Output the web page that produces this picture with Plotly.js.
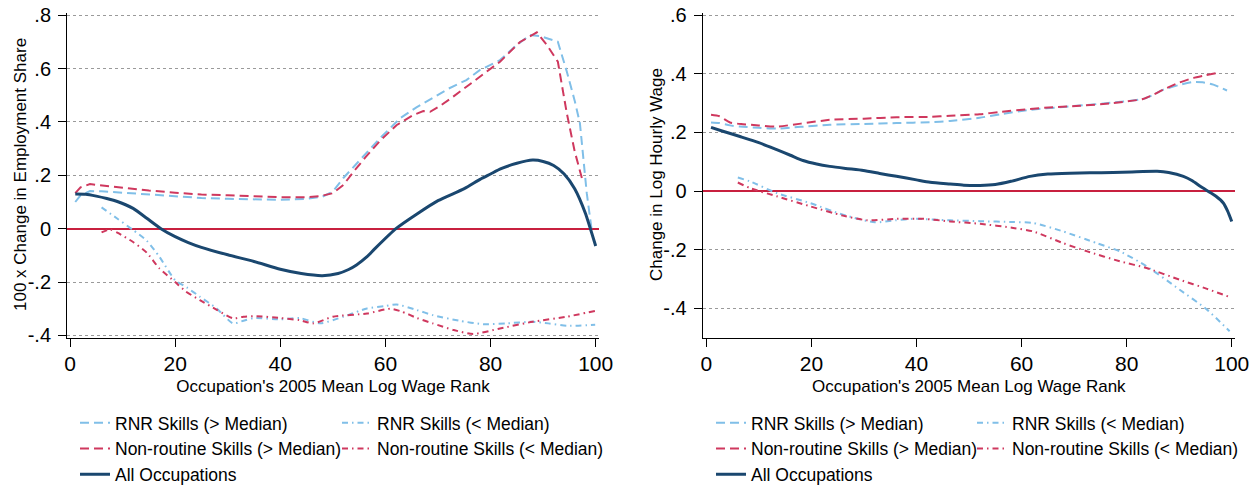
<!DOCTYPE html>
<html>
<head>
<meta charset="utf-8">
<script src="https://cdn.plot.ly/plotly-3.0.1.min.js"></script>
<style>html,body{margin:0;padding:0;background:#fff;}#chart{width:1255px;height:485px;}</style>
</head>
<body>
<div id="chart"></div>
<script>
// ---------- data: left panel (100 x change in employment share) ----------
const empAllX = [1,3,5,7,9,12,14.6,17.3,20,22.5,25,30,35,40,44,48,51,53,54.5,56.5,58,62,66,70,75,78,80,82,85,88,90,92,94,96,98,100];
const empAllY = [0.13,0.129,0.122,0.113,0.102,0.076,0.039,0,-0.03,-0.052,-0.07,-0.098,-0.123,-0.152,-0.168,-0.176,-0.168,-0.153,-0.136,-0.105,-0.075,0,0.055,0.105,0.15,0.185,0.205,0.225,0.245,0.257,0.252,0.237,0.205,0.15,0.06,-0.065];

const empRnrHiX = [1,2,3.8,6,10,15,20,25,30,35,40,45,48,50,52,54.2,56.4,59,62.8,65.9,69,72,75.4,78,81.8,85,87.5,89.4,91,92.8,94.5,96,97,98.3,99.2];
const empRnrHiY = [0.1,0.125,0.141,0.14,0.135,0.128,0.12,0.115,0.112,0.11,0.108,0.112,0.12,0.139,0.19,0.237,0.283,0.34,0.414,0.455,0.49,0.525,0.557,0.595,0.632,0.689,0.726,0.722,0.712,0.701,0.589,0.48,0.395,0.133,0.0];

const empNrHiX = [1,2,3.8,6,10,15,20,25,30,35,40,45,47.6,50,52,54,56.3,59,62.1,65.3,67.2,68.5,70.4,72.9,75.4,78,81.8,85.6,88.8,90.7,92.8,94.5,96,97.5];
const empNrHiY = [0.133,0.155,0.167,0.162,0.152,0.143,0.135,0.128,0.125,0.122,0.118,0.118,0.122,0.133,0.164,0.215,0.27,0.33,0.388,0.426,0.441,0.438,0.46,0.495,0.532,0.57,0.626,0.7,0.736,0.689,0.626,0.433,0.29,0.18];

const empRnrLoX = [6,8.9,12,14.6,17,20,22.2,24.7,27.9,31,33,35,40,43.7,47.6,52,56.5,60,62.1,66,69,74,78.6,83,88,91,94.5,99.9];
const empRnrLoY = [0.08,0.039,-0.005,-0.045,-0.105,-0.193,-0.22,-0.255,-0.299,-0.355,-0.345,-0.335,-0.34,-0.335,-0.355,-0.33,-0.299,-0.29,-0.284,-0.305,-0.324,-0.345,-0.358,-0.355,-0.349,-0.355,-0.364,-0.36];

const empNrLoX = [6,7.6,9,12,14.6,17,20,22,24.7,28,31,33,35.4,40,43.7,46.3,50,56.5,60.9,63,66,69,73,76.7,81.8,88,94.5,99.9];
const empNrLoY = [-0.014,-0.003,-0.015,-0.05,-0.09,-0.149,-0.2,-0.235,-0.268,-0.305,-0.336,-0.33,-0.328,-0.335,-0.343,-0.355,-0.33,-0.318,-0.3,-0.31,-0.335,-0.355,-0.38,-0.395,-0.374,-0.349,-0.33,-0.308];

// ---------- data: right panel (change in log hourly wage) ----------
const wageAllX = [0.9,3,6.4,10,13.4,16,18.4,21,23.5,26.5,29.9,33,36.2,40,42.6,46.4,49,52.1,55,58,61.6,65,69.2,73,77.4,81,85.8,88,90.8,92.5,94,95.8,97,98.4,99.2,100];
const wageAllY = [0.217,0.205,0.186,0.165,0.141,0.122,0.104,0.092,0.084,0.077,0.07,0.06,0.05,0.038,0.03,0.024,0.02,0.019,0.022,0.033,0.05,0.058,0.061,0.062,0.063,0.065,0.067,0.063,0.05,0.035,0.016,-0.004,-0.018,-0.041,-0.068,-0.104];

const wageRnrHiX = [0.9,2.5,4.5,6.4,10,13.4,18,23.5,30,36.2,42.6,46.4,52,56,61.6,67.9,72,77.4,83.1,85,87,90,92.7,94.5,96.5,99.1];
const wageRnrHiY = [0.234,0.232,0.224,0.22,0.216,0.213,0.219,0.226,0.229,0.232,0.235,0.239,0.25,0.262,0.277,0.287,0.293,0.302,0.314,0.328,0.346,0.362,0.372,0.371,0.363,0.343];

const wageNrHiX = [0.9,2.5,4.5,7,10,13.4,18,23.5,30,36.2,42.6,46.4,52,56,61.6,66,71.1,77.4,83.1,85,87,90,92.7,95,97.2];
const wageNrHiY = [0.26,0.255,0.234,0.228,0.224,0.22,0.23,0.243,0.247,0.252,0.253,0.257,0.262,0.27,0.28,0.286,0.291,0.3,0.314,0.328,0.346,0.37,0.386,0.395,0.403];

const wageRnrLoX = [6,8.3,13.4,19.7,26,32.1,36,39.4,46.4,52.1,58.4,62.2,67.9,74.3,78.7,83.8,90.1,95.3,99.6];
const wageRnrLoY = [0.046,0.033,-0.007,-0.041,-0.081,-0.107,-0.1,-0.095,-0.1,-0.103,-0.106,-0.109,-0.138,-0.178,-0.206,-0.257,-0.337,-0.405,-0.479];

const wageNrLoX = [6,8.3,13.4,19.7,26,30.6,36.3,41.3,46.4,52.1,58.4,62.2,67.9,72.5,78.7,83.8,90.1,95.3,99.6];
const wageNrLoY = [0.029,0.01,-0.018,-0.052,-0.084,-0.1,-0.095,-0.095,-0.104,-0.112,-0.126,-0.138,-0.178,-0.206,-0.24,-0.263,-0.303,-0.334,-0.362];

// ---------- labels ----------
const seriesNames = ['RNR Skills (> Median)','RNR Skills (< Median)','Non-routine Skills (> Median)','Non-routine Skills (< Median)','All Occupations'];
const xTickVals = [0,20,40,60,80,100];
const xTickText = ['0','20','40','60','80','100'];
const empTickVals = [-0.4,-0.2,0,0.2,0.4,0.6,0.8];
const empTickText = ['-.4','-.2','0','.2','.4','.6','.8'];
const wageTickVals = [-0.4,-0.2,0,0.2,0.4,0.6];
const wageTickText = ['-.4','-.2','0','.2','.4','.6'];
const xTitle = "Occupation's 2005 Mean Log Wage Rank";
const empTitle = '100 x Change in Employment Share';
const wageTitle = 'Change in Log Hourly Wage';

// ---------- styles ----------
const NAVY = '#1a476f', LBLUE = '#80bfe8', RED = '#cf385e', ZERO = '#c8203f';
const FONT = 'Liberation Sans, Arial, Helvetica, sans-serif';
const DASH = '9px,5px';
const DASHDOT = '6px,4px,1.5px,4px';

function mk(x, y, name, color, dash, width, xa, ya, leg, shape) {
  return {x: x, y: y, name: name, type: 'scatter', mode: 'lines', xaxis: xa, yaxis: ya, legend: leg,
    line: {color: color, dash: dash, width: width, shape: shape || 'linear', smoothing: 0.6}, hoverinfo: 'skip'};
}

const traces = [
  mk(empRnrHiX, empRnrHiY, seriesNames[0], LBLUE, DASH, 2, 'x', 'y', 'legend'),
  mk(empNrHiX, empNrHiY, seriesNames[2], RED, DASH, 2, 'x', 'y', 'legend'),
  mk(empRnrLoX, empRnrLoY, seriesNames[1], LBLUE, DASHDOT, 2, 'x', 'y', 'legend2', 'spline'),
  mk(empNrLoX, empNrLoY, seriesNames[3], RED, DASHDOT, 2, 'x', 'y', 'legend2', 'spline'),
  mk(empAllX, empAllY, seriesNames[4], NAVY, 'solid', 3, 'x', 'y', 'legend', 'spline'),
  mk(wageRnrHiX, wageRnrHiY, seriesNames[0], LBLUE, DASH, 2, 'x2', 'y2', 'legend3', 'spline'),
  mk(wageNrHiX, wageNrHiY, seriesNames[2], RED, DASH, 2, 'x2', 'y2', 'legend3', 'spline'),
  mk(wageRnrLoX, wageRnrLoY, seriesNames[1], LBLUE, DASHDOT, 2, 'x2', 'y2', 'legend4', 'spline'),
  mk(wageNrLoX, wageNrLoY, seriesNames[3], RED, DASHDOT, 2, 'x2', 'y2', 'legend4', 'spline'),
  mk(wageAllX, wageAllY, seriesNames[4], NAVY, 'solid', 3, 'x2', 'y2', 'legend3', 'spline')
];

function xax(domain, range, anchor) {
  return {domain: domain, range: range, anchor: anchor, tickvals: xTickVals, ticktext: xTickText,
    ticks: 'outside', ticklen: 8, tickcolor: '#000', showline: true, linecolor: '#000', linewidth: 1,
    showgrid: false, zeroline: false, tickfont: {size: 21, color: '#000'}, automargin: false,
    ticklabelstandoff: -1,
    title: {text: xTitle, font: {size: 17, color: '#000'}, standoff: 5}};
}
function yax(domain, range, anchor, vals, text) {
  return {domain: domain, range: range, anchor: anchor, tickvals: vals, ticktext: text,
    ticks: 'outside', ticklen: 8, tickcolor: '#000', showline: true, linecolor: '#000', linewidth: 1,
    showgrid: true, gridcolor: '#9a9a9a', griddash: 'dot', gridwidth: 1,
    zeroline: true, zerolinecolor: ZERO, zerolinewidth: 2,
    tickfont: {size: 20, color: '#000'}, automargin: false, ticklabelstandoff: 3};
}
function leg(x, y) {
  return {x: x, y: y, xanchor: 'left', yanchor: 'top', orientation: 'v', bgcolor: 'rgba(0,0,0,0)',
    borderwidth: 0, font: {size: 17.5, color: '#000'}, tracegroupgap: 0, itemclick: false};
}
function ytitle(text, x) {
  return {text: text, textangle: -90, xref: 'paper', yref: 'paper', x: x, y: 0.6392,
    xanchor: 'center', yanchor: 'middle', showarrow: false, font: {size: 17, color: '#000'}};
}

const layout = {
  width: 1255, height: 485, margin: {l: 0, r: 0, t: 0, b: 0, autoexpand: false},
  paper_bgcolor: '#fff', plot_bgcolor: '#fff', font: {family: FONT, color: '#000'},
  showlegend: true, hovermode: false,
  xaxis: xax([0.0534, 0.4773], [-0.57, 100.63], 'y'),
  yaxis: yax([0.303, 0.974], [-0.41, 0.81], 'x', empTickVals, empTickText),
  xaxis2: xax([0.5599, 0.9841], [-0.69, 100.63], 'y2'),
  yaxis2: yax([0.303, 0.974], [-0.502, 0.609], 'x2', wageTickVals, wageTickText),
  annotations: [ytitle(empTitle, 21/1255), ytitle(wageTitle, 657/1255)],
  legend: leg(75/1255, 0.1652),
  legend2: leg(337/1255, 0.1652),
  legend3: leg(711/1255, 0.1652),
  legend4: leg(972/1255, 0.1652)
};

Plotly.newPlot('chart', traces, layout, {staticPlot: true, displayModeBar: false});
</script>
</body>
</html>
